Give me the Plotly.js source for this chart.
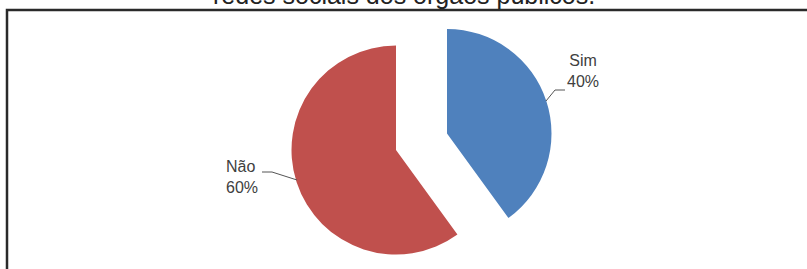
<!DOCTYPE html>
<html>
<head>
<meta charset="utf-8">
<script src="https://cdn.plot.ly/plotly-3.0.1.min.js"></script>
<style>html,body{margin:0;padding:0;background:#fff;}#chart{width:807px;height:269px;}</style>
</head>
<body>
<div id="chart"></div>
<script>
var categories = ['Sim', 'Não'];
var values = [40, 60];
var colors = ['#4F81BD', '#C0504D'];
var titleText = 'redes sociais dos órgãos públicos.';

var W = 807, H = 269;
function px(x){ return x / W; }
function py(y){ return 1 - y / H; }

var total = values.reduce(function(a,b){return a+b;}, 0);
var pcts = values.map(function(v){ return Math.round(v / total * 100) + '%'; });

// one trace per slice (exploded pie): the other slice is transparent
var domains = [
  {x:[px(342.5), px(551.5)], y:[py(238), py(29)]},
  {x:[px(291.5), px(500.5)], y:[py(254.5), py(45.5)]}
];
var traces = categories.map(function(c, i){
  return {
    type:'pie',
    labels: categories,
    values: values,
    sort:false,
    direction:'clockwise',
    rotation:0,
    textinfo:'none',
    hoverinfo:'none',
    showlegend:false,
    domain: domains[i],
    marker:{
      colors: colors.map(function(col, j){ return j === i ? col : 'rgba(0,0,0,0)'; }),
      line:{width:0}
    }
  };
});

var labelPos = [
  {x:px(583), y:py(71), xanchor:'center', align:'center'},
  {x:px(224), y:py(177), xanchor:'left', align:'left'}
];
var annotations = categories.map(function(c, i){
  return {
    xref:'paper', yref:'paper', x:labelPos[i].x, y:labelPos[i].y,
    xanchor:labelPos[i].xanchor, yanchor:'middle', align:labelPos[i].align,
    text: c + '<br>' + pcts[i], showarrow:false,
    font:{family:'Liberation Sans, Arial, sans-serif', size:16, color:'#404040'}
  };
});
annotations.push({
  xref:'paper', yref:'paper', x:px(404), y:py(-5), xanchor:'center', yanchor:'middle',
  text:titleText, showarrow:false,
  font:{family:'Liberation Sans, Arial, sans-serif', size:25, color:'#222'}
});

function pathP(pts){
  return pts.map(function(p, k){ return (k ? 'L' : 'M') + px(p[0]) + ',' + py(p[1]); }).join(' ');
}
var shapes = [
  {type:'rect', xref:'paper', yref:'paper', x0:px(7), x1:px(820), y0:py(290), y1:py(10),
   line:{color:'#2a2a2a', width:2.5}, fillcolor:'rgba(0,0,0,0)'},
  {type:'path', xref:'paper', yref:'paper', path:pathP([[546,101],[555,90],[565,90]]), line:{color:'#555', width:1}},
  {type:'path', xref:'paper', yref:'paper', path:pathP([[262,172],[272,172],[297,180]]), line:{color:'#555', width:1}}
];

var layout = {
  width:W, height:H,
  margin:{l:0, r:0, t:0, b:0},
  paper_bgcolor:'#fff', plot_bgcolor:'#fff',
  showlegend:false,
  annotations: annotations,
  shapes: shapes
};
Plotly.newPlot('chart', traces, layout, {staticPlot:true, displayModeBar:false});
</script>
</body>
</html>
